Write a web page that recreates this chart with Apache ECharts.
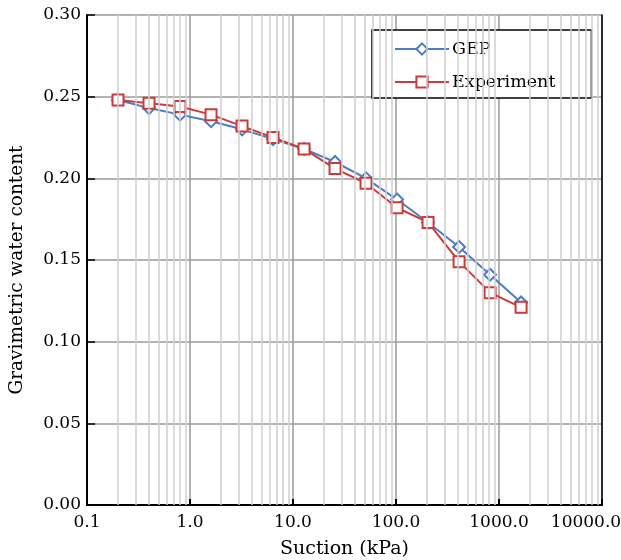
<!DOCTYPE html>
<html><head><meta charset="utf-8">
<script src="https://cdn.jsdelivr.net/npm/echarts@6/dist/echarts.min.js"></script>
<style>html,body{margin:0;padding:0;background:#fff}#c{width:621px;height:560px}</style>
</head><body><div id="c"></div>
<script>
const suction = [0.2, 0.4, 0.8, 1.6, 3.2, 6.4, 12.8, 25.6, 51.2, 102.4, 204.8, 409.6, 819.2, 1638.4];
const gep = [0.248, 0.243, 0.239, 0.235, 0.230, 0.224, 0.218, 0.210, 0.200, 0.187, 0.173, 0.158, 0.141, 0.124];
const experiment = [0.248, 0.246, 0.244, 0.239, 0.232, 0.225, 0.218, 0.206, 0.197, 0.182, 0.173, 0.149, 0.130, 0.121];
const seriesNames = ['GEP', 'Experiment'];
const xTitle = 'Suction (kPa)';
const yTitle = 'Gravimetric water content';

const minorGridX = [];
for (let d = 0.1; d < 5000; d *= 10) {
  for (let m = 2; m <= 9; m++) minorGridX.push(+(d * m).toPrecision(3));
}

const FONT = 'DejaVu Serif';
const blue = '#4a7dc2';
const red = '#cc3b3b';

const chart = echarts.init(document.getElementById('c'));
chart.setOption({
  animation: false,
  backgroundColor: '#fff',
  grid: { left: 87, right: 19, top: 15, bottom: 55, show: false, containLabel: false, outerBoundsMode: 'none' },
  legend: {
    orient: 'vertical', left: 372, top: 30,
    data: seriesNames,
    itemWidth: 54, itemHeight: 14, itemGap: 15,
    padding: [10, 36, 7, 22],
    borderColor: '#000', borderWidth: 1.5, backgroundColor: '#fff',
    textStyle: { fontFamily: FONT, fontSize: 17.5, color: '#000', padding: [0, 0, 0, -2] }
  },
  xAxis: [{
    type: 'log', logBase: 10, min: 0.1, max: 10000, splitNumber: 5,
    name: xTitle, nameLocation: 'middle', nameGap: 35,
    nameTextStyle: { fontFamily: FONT, fontSize: 19, color: '#000' },
    axisLine: { lineStyle: { color: '#000', width: 2 } },
    axisTick: { inside: true, length: 6, lineStyle: { color: '#000', width: 2 } },
    axisLabel: { fontFamily: FONT, fontSize: 17, color: '#000', margin: 9,
      formatter: v => {
        const s = Number(v).toFixed(1);
        return v >= 10000 ? '{r|' + s + '}' : s;
      },
      rich: { r: { fontFamily: FONT, fontSize: 17, color: '#000', padding: [0, 32, 0, 0] } } },
    splitLine: { show: true, lineStyle: { color: '#9a9a9a', width: 1.5 } },
    minorTick: { show: false }, minorSplitLine: { show: false }
  }, {
    type: 'log', logBase: 10, min: 0.1, max: 10000, position: 'top',
    axisLine: { show: true, lineStyle: { color: '#000', width: 1.5 } },
    axisTick: { show: false }, axisLabel: { show: false }, splitLine: { show: false }
  }],
  yAxis: [{
    type: 'value', min: 0, max: 0.3, interval: 0.05,
    name: yTitle, nameLocation: 'middle', nameGap: 60,
    nameTextStyle: { fontFamily: FONT, fontSize: 18.5, color: '#000', padding: [0, 20, 0, 0] },
    axisLine: { show: true, lineStyle: { color: '#000', width: 2 } },
    axisTick: { show: true, inside: true, length: 8, lineStyle: { color: '#000', width: 1.5 } },
    axisLabel: { fontFamily: FONT, fontSize: 17, color: '#000', margin: 6,
      formatter: v => Number(v).toFixed(2) },
    splitLine: { show: true, lineStyle: { color: '#9a9a9a', width: 1.5 } }
  }, {
    type: 'value', min: 0, max: 0.3, interval: 0.05, position: 'right',
    axisLine: { show: true, lineStyle: { color: '#000', width: 1.5 } },
    axisTick: { show: false }, axisLabel: { show: false }, splitLine: { show: false }
  }],
  series: [
    {
      type: 'line', name: '__grid', data: [], z: 1, silent: true,
      markLine: {
        silent: true, symbol: 'none', label: { show: false },
        lineStyle: { color: '#cfcfcf', width: 1.5, type: 'solid' },
        data: minorGridX.map(v => ({ xAxis: v }))
      }
    },
    {
      type: 'line', name: seriesNames[0], z: 3,
      data: suction.map((x, i) => [x, gep[i]]),
      symbol: 'diamond', symbolSize: 12,
      lineStyle: { color: blue, width: 2 },
      itemStyle: { color: '#fff', borderColor: blue, borderWidth: 2 }
    },
    {
      type: 'line', name: seriesNames[1], z: 4,
      data: suction.map((x, i) => [x, experiment[i]]),
      symbol: 'rect', symbolSize: 11,
      lineStyle: { color: red, width: 2 },
      itemStyle: { color: '#fff', borderColor: red, borderWidth: 2 }
    }
  ]
});
</script></body></html>
